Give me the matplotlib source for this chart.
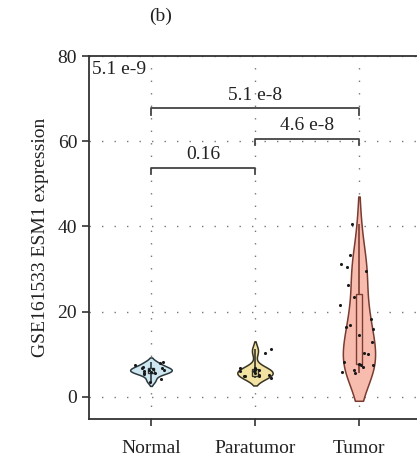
import numpy as np
import matplotlib

matplotlib.use("Agg")
import matplotlib.pyplot as plt  # noqa: E402

plt.rcParams["font.family"] = ["Liberation Serif", "DejaVu Serif"]

GROUPS = ["Normal", "Paratumor", "Tumor"]
NORMAL = [5.6, 6.4, 7.9, 6.7, 6.0, 8.2, 7.4, 6.7, 4.2, 3.6, 5.6, 5.4, 7.0, 6.2, 5.9, 6.5]
PARATUMOR = [11.3, 10.3, 5.2, 4.4, 4.8, 4.8, 6.4, 6.7, 6.0, 6.7, 6.0, 5.2, 4.8, 5.6, 6.2]
TUMOR = [33.2, 31.1, 30.4, 29.5, 26.2, 23.5, 21.6, 18.3, 16.4, 16.8, 16.0, 14.5,
         12.9, 10.3, 10.1, 8.2, 7.5, 7.8, 7.5, 6.4, 7.1, 5.8, 5.6, 40.5]
# pairwise p-values: (left group, right group, bracket height, label)
PAIRS = [(0, 1, 53.8, "0.16"), (1, 2, 60.6, "4.6 e-8"), (0, 2, 67.7, "5.1 e-8")]
GLOBAL_P = "5.1 e-9"

FILLS = ["#cfe7f0", "#f2e3a2", "#f8bcae"]
EDGES = ["#2b3a40", "#3a3424", "#7a3b31"]
INK = "#222222"
GRID = "#777777"


def kde(values, cut=1.4):
    v = np.asarray(values, float)
    bw = v.std(ddof=1) * len(v) ** (-1 / 5)
    grid = np.linspace(v.min() - cut * bw, v.max() + cut * bw, 300)
    dens = np.exp(-0.5 * ((grid[:, None] - v[None, :]) / bw) ** 2).sum(axis=1)
    return grid, dens / dens.max()


fig = plt.figure(figsize=(4.17, 4.61), dpi=100)
ax = fig.add_axes([0.2134, 0.0911, 0.7866, 0.7874])

rng = np.random.default_rng(7)
widths = [0.2, 0.17, 0.155]
spread = [0.16, 0.16, 0.18]
cuts = [1.5, 1.5, 1.2]
for i, (vals, fc, ec) in enumerate(zip([NORMAL, PARATUMOR, TUMOR], FILLS, EDGES)):
    pos = i + 1
    y, d = kde(vals, cuts[i])
    ax.fill_betweenx(y, pos - d * widths[i], pos + d * widths[i], facecolor=fc,
                     edgecolor=ec, linewidth=1.1, zorder=2)
    q1, q3 = np.percentile(vals, [25, 75])
    ax.vlines(pos, min(vals), max(vals), color=ec, linewidth=1.2, zorder=3)
    ax.add_patch(plt.Rectangle((pos - 0.025, q1), 0.05, q3 - q1, facecolor=fc,
                               edgecolor=ec, linewidth=1.0, zorder=3))
    jitter = rng.uniform(-spread[i], spread[i], len(vals))
    ax.scatter(pos + jitter, vals, s=5, color="#1a1a1a", zorder=4, linewidths=0)

for a, b, h, label in PAIRS:
    xa, xb = a + 1, b + 1
    ax.plot([xa, xa, xb, xb], [h - 1.6, h, h, h - 1.6], color="#444444",
            linewidth=1.3, zorder=3)
    ax.text((xa + xb) / 2, h + 1.0, label, ha="center", va="bottom",
            fontsize=14, color=INK)
ax.text(0.008, 0.985, GLOBAL_P, transform=ax.transAxes, ha="left", va="top",
        fontsize=14, color=INK)

ax.set_xlim(0.404, 3.558)
ax.set_ylim(-5.2, 80)
ax.set_xticks([1, 2, 3])
ax.set_xticklabels(GROUPS, fontsize=14, color=INK)
ax.set_yticks([0, 20, 40, 60, 80])
ax.tick_params(axis="y", labelsize=14, labelcolor=INK, direction="out",
               length=5, width=1.2, color="#333333")
ax.tick_params(axis="x", direction="out", length=5, width=1.2, color="#333333",
               pad=10)
ax.set_ylabel("GSE161533 ESM1 expression", fontsize=14, color=INK, labelpad=6)
ax.grid(True, color=GRID, linestyle=(0, (1, 8)), linewidth=1.0)
ax.set_axisbelow(True)
for side in ("left", "bottom", "top"):
    ax.spines[side].set_color("#333333")
    ax.spines[side].set_linewidth(1.3)
ax.spines["right"].set_visible(False)

fig.text(0.385, 0.965, "(b)", fontsize=14, color=INK, ha="center", va="center")

fig.savefig("out.png", dpi=100)
